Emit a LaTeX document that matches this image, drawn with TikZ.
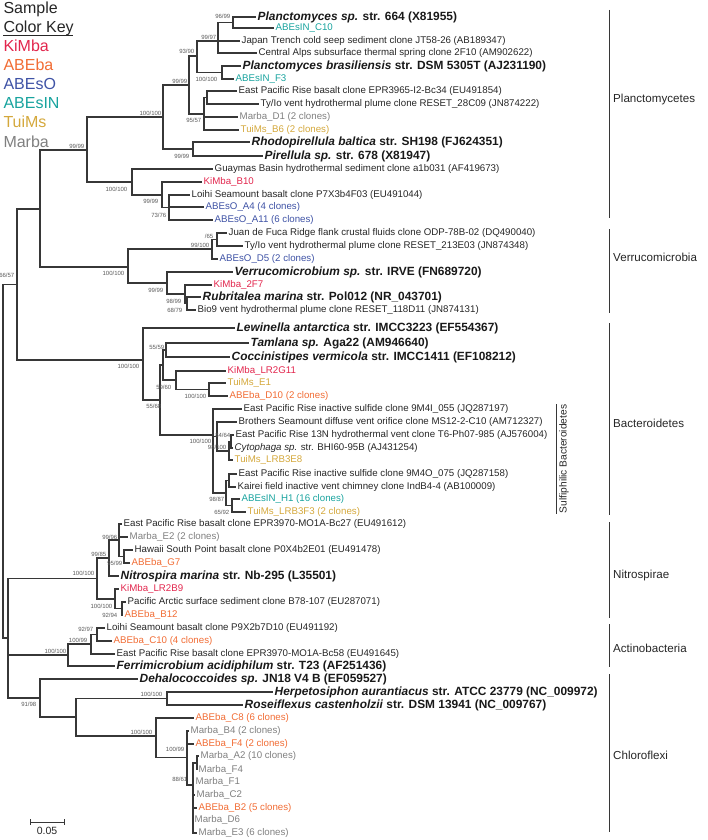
\documentclass[tikz,border=0pt]{standalone}
\usepackage{fontspec}
\setmainfont{Liberation Sans}
\usetikzlibrary{positioning}

\definecolor{treeline}{RGB}{55,55,55}
\definecolor{colKiMba}{RGB}{226,38,77}
\definecolor{colABEba}{RGB}{241,108,52}
\definecolor{colABEsO}{RGB}{62,82,165}
\definecolor{colABEsIN}{RGB}{24,163,158}
\definecolor{colTuiMs}{RGB}{212,168,60}
\definecolor{colMarba}{RGB}{128,128,128}

\begin{document}
\begin{tikzpicture}[
    x=1pt, y=-1pt,
    branch/.style={draw=treeline, line width=1.2pt},
    leaf/.style={anchor=west, inner xsep=1.5pt, inner ysep=1pt, font=\fontsize{9.7}{11}\selectfont, text=black!85},
    ref/.style={leaf, font=\fontsize{11.9}{13}\selectfont\bfseries, text=black!90},
    kimba/.style={text=colKiMba},
    abeba/.style={text=colABEba},
    abeso/.style={text=colABEsO},
    abesin/.style={text=colABEsIN},
    tuims/.style={text=colTuiMs},
    marba/.style={text=colMarba},
    boot/.style={anchor=east, inner sep=0.5pt, font=\fontsize{6}{7}\selectfont, text=black!65},
    keytext/.style={anchor=base west, inner sep=0pt, font=\fontsize{16}{18}\selectfont},
    cladebar/.style={draw=treeline, line width=1pt},
    clade/.style={anchor=west, inner sep=0pt, font=\fontsize{11.6}{13}\selectfont, text=black!85}
]
    \useasboundingbox (0,0) rectangle (708,840);

    % Colour key
    \node[keytext, text=black!85] (k0) at (3.3,13.3) {Sample};
    \node[keytext, text=black!85] (k1) at (3.3,33) {Color Key};
    \draw[line width=1pt, black!85] (k1.base west) ++(0,2.6) coordinate (u0) -- ++(70,0) coordinate (u1);
    \node[keytext, kimba] (k2) at (3.3,51.7) {KiMba};
    \node[keytext, abeba] (k3) at (3.3,70.7) {ABEba};
    \node[keytext, abeso] (k4) at (3.3,90) {ABEsO};
    \node[keytext, abesin] (k5) at (3.3,109) {ABEsIN};
    \node[keytext, tuims] (k6) at (3.3,128) {TuiMs};
    \node[keytext, marba] (k7) at (3.3,147.3) {Marba};

    % Planctomycetes
    \node[ref] (pl1) at (256,17) {\textit{Planctomyces sp.} str. 664 (X81955)};
    \node[leaf, abesin] (pl2) at (274,28) {ABEsIN\_C10};
    \node[leaf] (pl3) at (240,41) {Japan Trench cold seep sediment clone JT58-26 (AB189347)};
    \node[leaf] (pl4) at (257,53) {Central Alps subsurface thermal spring clone 2F10 (AM902622)};
    \node[ref] (pl5) at (241,66) {\textit{Planctomyces brasiliensis} str. DSM 5305T (AJ231190)};
    \node[leaf, abesin] (pl6) at (234,79) {ABEsIN\_F3};
    \node[leaf] (pl7) at (237,91) {East Pacific Rise basalt clone EPR3965-I2-Bc34 (EU491854)};
    \node[leaf] (pl8) at (259,104) {Ty/Io vent hydrothermal plume clone RESET\_28C09 (JN874222)};
    \node[leaf, marba] (pl9) at (238,117) {Marba\_D1 (2 clones)};
    \node[leaf, tuims] (pl10) at (239,130) {TuiMs\_B6 (2 clones)};
    \node[ref] (pl11) at (250,142) {\textit{Rhodopirellula baltica} str. SH198 (FJ624351)};
    \node[ref] (pl12) at (263,156) {\textit{Pirellula sp.} str. 678 (X81947)};
    \node[leaf] (pl13) at (213,169) {Guaymas Basin hydrothermal sediment clone a1b031 (AF419673)};
    \node[leaf, kimba] (pl14) at (202,182) {KiMba\_B10};
    \node[leaf] (pl15) at (190,195) {Loihi Seamount basalt clone P7X3b4F03 (EU491044)};
    \node[leaf, abeso] (pl16) at (204,207) {ABEsO\_A4 (4 clones)};
    \node[leaf, abeso] (pl17) at (213,220) {ABEsO\_A11 (6 clones)};

    % Verrucomicrobia
    \node[leaf] (vr1) at (227,233) {Juan de Fuca Ridge flank crustal fluids clone ODP-78B-02 (DQ490040)};
    \node[leaf] (vr2) at (243,246) {Ty/Io vent hydrothermal plume clone RESET\_213E03 (JN874348)};
    \node[leaf, abeso] (vr3) at (218,259) {ABEsO\_D5 (2 clones)};
    \node[ref] (vr4) at (233,272) {\textit{Verrucomicrobium sp.} str. IRVE (FN689720)};
    \node[leaf, kimba] (vr5) at (212,285) {KiMba\_2F7};
    \node[ref] (vr6) at (201,297) {\textit{Rubritalea marina} str. Pol012 (NR\_043701)};
    \node[leaf] (vr7) at (196,310) {Bio9 vent hydrothermal plume clone RESET\_118D11 (JN874131)};

    % Bacteroidetes
    \node[ref] (bc1) at (235,328) {\textit{Lewinella antarctica} str. IMCC3223 (EF554367)};
    \node[ref] (bc2) at (249,343) {\textit{Tamlana sp.} Aga22 (AM946640)};
    \node[ref] (bc3) at (230,357) {\textit{Coccinistipes vermicola} str. IMCC1411 (EF108212)};
    \node[leaf, kimba] (bc4) at (226,371) {KiMba\_LR2G11};
    \node[leaf, tuims] (bc5) at (226,383) {TuiMs\_E1};
    \node[leaf, abeba] (bc6) at (228,396) {ABEba\_D10 (2 clones)};
    \node[leaf] (bc7) at (242,409) {East Pacific Rise inactive sulfide clone 9M4I\_055 (JQ287197)};
    \node[leaf] (bc8) at (237,422) {Brothers Seamount diffuse vent orifice clone MS12-2-C10 (AM712327)};
    \node[leaf] (bc9) at (234,435) {East Pacific Rise 13N hydrothermal vent clone T6-Ph07-985 (AJ576004)};
    \node[leaf] (bc10) at (233,448) {\textit{Cytophaga sp.} str. BHI60-95B (AJ431254)};
    \node[leaf, tuims] (bc11) at (233,460) {TuiMs\_LRB3E8};
    \node[leaf] (bc12) at (237,474) {East Pacific Rise inactive sulfide clone 9M4O\_075 (JQ287158)};
    \node[leaf] (bc13) at (236,487) {Kairei field inactive vent chimney clone IndB4-4 (AB100009)};
    \node[leaf, abesin] (bc14) at (240,499) {ABEsIN\_H1 (16 clones)};
    \node[leaf, tuims] (bc15) at (246,512) {TuiMs\_LRB3F3 (2 clones)};

    % Nitrospirae
    \node[leaf] (ni1) at (122,524) {East Pacific Rise basalt clone EPR3970-MO1A-Bc27 (EU491612)};
    \node[leaf, marba] (ni2) at (128,537) {Marba\_E2 (2 clones)};
    \node[leaf] (ni3) at (133,550) {Hawaii South Point basalt clone P0X4b2E01 (EU491478)};
    \node[leaf, abeba] (ni4) at (130,563) {ABEba\_G7};
    \node[ref] (ni5) at (119,576) {\textit{Nitrospira marina} str. Nb-295 (L35501)};
    \node[leaf, kimba] (ni6) at (119,589) {KiMba\_LR2B9};
    \node[leaf] (ni7) at (126,602) {Pacific Arctic surface sediment clone B78-107 (EU287071)};
    \node[leaf, abeba] (ni8) at (123,615) {ABEba\_B12};

    % Actinobacteria
    \node[leaf] (ac1) at (105,628) {Loihi Seamount basalt clone P9X2b7D10 (EU491192)};
    \node[leaf, abeba] (ac2) at (112,641) {ABEba\_C10 (4 clones)};
    \node[leaf] (ac3) at (115,654) {East Pacific Rise basalt clone EPR3970-MO1A-Bc58 (EU491645)};
    \node[ref] (ac4) at (115,666) {\textit{Ferrimicrobium acidiphilum} str. T23 (AF251436)};

    % Chloroflexi
    \node[ref] (ch1) at (138,679) {\textit{Dehalococcoides sp.} JN18 V4 B (EF059527)};
    \node[ref] (ch2) at (273,692) {\textit{Herpetosiphon aurantiacus} str. ATCC 23779 (NC\_009972)};
    \node[ref] (ch3) at (243,705) {\textit{Roseiflexus castenholzii} str. DSM 13941 (NC\_009767)};
    \node[leaf, abeba] (ch4) at (194,718) {ABEba\_C8 (6 clones)};
    \node[leaf, marba] (ch5) at (189,731) {Marba\_B4 (2 clones)};
    \node[leaf, abeba] (ch6) at (194,744) {ABEba\_F4 (2 clones)};
    \node[leaf, marba] (ch7) at (199,756) {Marba\_A2 (10 clones)};
    \node[leaf, marba] (ch8) at (197,770) {Marba\_F4};
    \node[leaf, marba] (ch9) at (194,782) {Marba\_F1};
    \node[leaf, marba] (ch10) at (195,795) {Marba\_C2};
    \node[leaf, abeba] (ch11) at (197,808) {ABEba\_B2 (5 clones)};
    \node[leaf, marba] (ch12) at (193,820) {Marba\_D6};
    \node[leaf, marba] (ch13) at (197,833) {Marba\_E3 (6 clones)};

    % Internal nodes
    \coordinate (n96) at (233,22.5);
    \coordinate (n9997) at (218,41);
    \coordinate (n100a) at (222,72.5);
    \coordinate (n9390) at (197,56);
    \coordinate (nty) at (207,97.5);
    \coordinate (n9557) at (204,114);
    \coordinate (n99b) at (189,85);
    \coordinate (nrp) at (193,149);
    \coordinate (n100b) at (163,117);
    \coordinate (n7376) at (169,207.5);
    \coordinate (n99c) at (162,195);
    \coordinate (n100c) at (132,182);
    \coordinate (n99d) at (87,150);
    \coordinate (n65) at (217,239.5);
    \coordinate (n99e) at (212,249);
    \coordinate (n6879) at (187,303.5);
    \coordinate (n9899) at (185,294);
    \coordinate (n99f) at (167,283);
    \coordinate (n100d) at (128,267);
    \coordinate (nPV) at (40,209);
    \coordinate (n5559) at (166,350);
    \coordinate (n100e) at (209,389.5);
    \coordinate (n5960) at (176,380);
    \coordinate (nA) at (163,365);
    \coordinate (n8464) at (231,441.5);
    \coordinate (n98100) at (229,451);
    \coordinate (nBr) at (217,436.5);
    \coordinate (nKa) at (229,480.5);
    \coordinate (n6592) at (232,505.5);
    \coordinate (n9887) at (226,493);
    \coordinate (nSul) at (213,435);
    \coordinate (n5568) at (160,400);
    \coordinate (n100g) at (143,360);
    \coordinate (n6657) at (17,284.5);
    \coordinate (n9599) at (124,556.5);
    \coordinate (n9996) at (119,540);
    \coordinate (n9985) at (109,558);
    \coordinate (n9294) at (122,608.5);
    \coordinate (n100h) at (115,599);
    \coordinate (nNi) at (97,578.5);
    \coordinate (n9297) at (97,634.5);
    \coordinate (n10099) at (91,644);
    \coordinate (nAc) at (68,655);
    \coordinate (nHR) at (167,698.5);
    \coordinate (nAF) at (197,763);
    \coordinate (n8861) at (193,785);
    \coordinate (nR) at (187,757.5);
    \coordinate (nQ) at (156,736);
    \coordinate (nC2) at (76,717);
    \coordinate (nC) at (40,698);
    \coordinate (nLow) at (8,638);
    \coordinate (root) at (3,461);

    % Branches
    \foreach \a/\b in {n96/pl1, n96/pl2, n9997/n96, n9997/pl3, n9997/pl4,
        n100a/pl5, n100a/pl6, n9390/n9997, n9390/n100a, nty/pl7, nty/pl8,
        n9557/nty, n9557/pl9, n9557/pl10, n99b/n9390, n99b/n9557,
        nrp/pl11, nrp/pl12, n100b/n99b, n100b/nrp,
        n7376/pl15, n7376/pl16, n7376/pl17, n99c/pl14, n99c/n7376,
        n100c/pl13, n100c/n99c, n99d/n100b, n99d/n100c,
        n65/vr1, n65/vr2, n99e/n65, n99e/vr3, n6879/vr6, n6879/vr7,
        n9899/vr5, n9899/n6879, n99f/vr4, n99f/n9899,
        n100d/n99e, n100d/n99f, nPV/n99d, nPV/n100d,
        n5559/bc2, n5559/bc3, n100e/bc5, n100e/bc6, n5960/bc4, n5960/n100e,
        nA/n5559, nA/n5960, n8464/bc9, n8464/bc10, n98100/n8464, n98100/bc11,
        nBr/bc8, nBr/n98100, nKa/bc12, nKa/bc13, n6592/bc14, n6592/bc15,
        n9887/nKa, n9887/n6592, nSul/bc7, nSul/nBr, nSul/n9887,
        n5568/nA, n5568/nSul, n100g/bc1, n100g/n5568, n6657/nPV, n6657/n100g,
        n9599/ni3, n9599/ni4, n9996/ni1, n9996/ni2, n9996/n9599,
        n9985/n9996, n9985/ni5, n9294/ni7, n9294/ni8, n100h/ni6, n100h/n9294,
        nNi/n9985, nNi/n100h,
        n9297/ac1, n9297/ac2, n10099/n9297, n10099/ac3, nAc/n10099, nAc/ac4,
        nHR/ch2, nHR/ch3, nAF/ch7, nAF/ch8,
        n8861/nAF, n8861/ch9, n8861/ch10, n8861/ch11, n8861/ch12, n8861/ch13,
        nR/ch5, nR/ch6, nR/n8861, nQ/ch4, nQ/nR, nC2/nHR, nC2/nQ,
        nC/ch1, nC/nC2, nLow/nNi, nLow/nAc, nLow/nC, root/n6657, root/nLow}
        \draw[branch] (\a) |- (\b);

    % Bootstrap values
    \foreach \x/\y/\v [count=\i] in {231/16/96\slash99, 217/37/99\slash97, 195/51/93\slash90,
        218/79/100\slash100, 188/81/99\slash99, 202/120/95\slash57, 162/113/100\slash100,
        190/156/99\slash99, 85/146/99\slash99, 128/189/100\slash100, 159/201/99\slash99,
        167/215/73\slash76, 214/236/\slash65, 210/245/99\slash100, 125/273/100\slash100,
        164/290/99\slash99, 182/301/98\slash99, 183/310/68\slash79, 15/275/66\slash57,
        140/366/100\slash100, 165/347/55\slash59, 172/387/59\slash60, 207/396/100\slash100,
        162/406/55\slash68, 212/441/100\slash100, 231/435/84\slash64, 227/447/98\slash100,
        225/499/98\slash87, 230/512/65\slash92,
        95/573/100\slash100, 107/554/99\slash85, 118/537/99\slash96, 123/563/95\slash99,
        113/606/100\slash100, 118/615/92\slash94,
        94/629/92\slash97, 88/640/100\slash99, 67/651/100\slash100,
        37/704/91\slash98, 163/694/100\slash100, 153/732/100\slash100,
        185/749/100\slash99, 188/779/88\slash61}
        \node[boot] (s\i) at (\x,\y) {\v};

    % Clades
    \foreach \t/\b/\ly/\name [count=\i] in {10/218/100/Planctomycetes, 229/313/257/Verrucomicrobia,
        323/515/423/Bacteroidetes, 522/618/575/Nitrospirae,
        624/667/648/Actinobacteria, 674/832/755/Chloroflexi}
    {
        \draw[cladebar] (609,\t) coordinate (ct\i) -- (609,\b) coordinate (cb\i);
        \node[clade] (cl\i) at (613,\ly) {\name};
    }
    \draw[cladebar] (556,404) coordinate (sf0) -- (556,514) coordinate (sf1);
    \node[rotate=90, inner sep=0pt, font=\fontsize{10.2}{12}\selectfont, text=black!85] (sulf) at (564,459) {Sulfiphilic Bacteroidetes};

    % Scale bar
    \coordinate (sb0) at (30,822);
    \coordinate (sb1) at (64,822);
    \draw[treeline, line width=1pt] (sb0) -- (sb1);
    \draw[treeline, line width=1pt] (sb0) ++(0,-3) -- ++(0,6);
    \draw[treeline, line width=1pt] (sb1) ++(0,-3) -- ++(0,6);
    \node[inner sep=0pt, font=\fontsize{10.5}{12}\selectfont, text=black!85] (sbl) at (47,831) {0.05};
\end{tikzpicture}
\end{document}
